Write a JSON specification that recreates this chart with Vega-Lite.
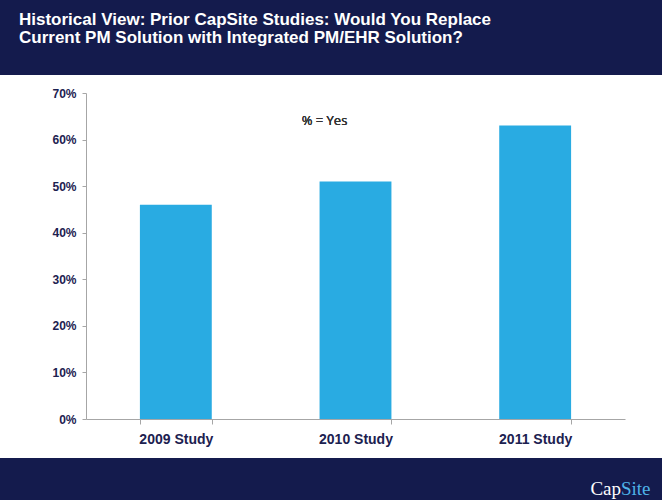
{
  "$schema": "https://vega.github.io/schema/vega-lite/v6.json",
  "background": "#ffffff",
  "padding": 0,
  "spacing": 12,
  "config": {
    "view": {"stroke": null},
    "font": "Liberation Sans"
  },
  "vconcat": [
    {
      "width": 662,
      "height": 75,
      "view": {"fill": "#141B4D", "stroke": null},
      "data": {"values": [{"t": "title"}]},
      "mark": {
        "type": "text",
        "align": "left",
        "baseline": "alphabetic",
        "font": "Liberation Sans",
        "fontWeight": "bold",
        "fontSize": 17,
        "lineHeight": 18,
        "color": "#ffffff",
        "text": ["Historical View: Prior CapSite Studies: Would You Replace", "Current PM Solution with Integrated PM/EHR Solution?"]
      },
      "encoding": {
        "x": {"value": 19},
        "y": {"value": 25}
      }
    },
    {
      "width": 662,
      "height": 326,
      "data": {
        "values": [
          {"study": "2009 Study", "yes": 46},
          {"study": "2010 Study", "yes": 51},
          {"study": "2011 Study", "yes": 63}
        ]
      },
      "layer": [
        {
          "mark": {"type": "bar", "color": "#29ABE2"},
          "encoding": {
            "x": {
              "field": "study",
              "type": "nominal",
              "sort": null,
              "scale": {"range": [86, 625], "paddingInner": 0.6, "paddingOuter": 0.3},
              "axis": {
                "title": null,
                "labelAngle": 0,
                "tickBand": "extent",
                "domainColor": "#a6a6a6",
                "tickColor": "#a6a6a6",
                "tickSize": 5,
                "labelPadding": 8,
                "labelFont": "Liberation Sans",
                "labelFontWeight": "bold",
                "labelFontSize": 14,
                "labelColor": "#1C2150"
              }
            },
            "y": {
              "field": "yes",
              "type": "quantitative",
              "scale": {"domain": [0, 70]},
              "axis": {
                "title": null,
                "grid": false,
                "offset": -86,
                "minExtent": 0,
                "values": [0, 10, 20, 30, 40, 50, 60, 70],
                "labelExpr": "datum.value + '%'",
                "domainColor": "#a6a6a6",
                "tickColor": "#a6a6a6",
                "tickSize": 4,
                "labelPadding": 6,
                "labelFont": "Liberation Sans",
                "labelFontWeight": "bold",
                "labelFontSize": 12,
                "labelColor": "#1C2150"
              }
            }
          }
        },
        {
          "mark": {
            "type": "text",
            "font": "Open Sans",
            "fontWeight": "normal",
            "fontSize": 13,
            "color": "#333333",
            "dx": -31,
            "text": "% = Yes"
          },
          "encoding": {
            "x": {"datum": "2010 Study"},
            "y": {"datum": 64}
          }
        }
      ]
    },
    {
      "width": 662,
      "height": 46,
      "view": {"fill": "#141B4D", "stroke": null},
      "data": {"values": [{"part": "Cap"}, {"part": "Site"}]},
      "layer": [
        {
          "transform": [{"filter": "datum.part === 'Cap'"}],
          "mark": {"type": "text", "align": "right", "baseline": "alphabetic", "font": "Liberation Serif", "fontSize": 19, "color": "#ffffff"},
          "encoding": {"x": {"value": 621}, "y": {"value": 37}, "text": {"field": "part"}}
        },
        {
          "transform": [{"filter": "datum.part === 'Site'"}],
          "mark": {"type": "text", "align": "left", "baseline": "alphabetic", "font": "Liberation Serif", "fontSize": 19, "color": "#4FB3E8"},
          "encoding": {"x": {"value": 621}, "y": {"value": 37}, "text": {"field": "part"}}
        }
      ]
    }
  ]
}
